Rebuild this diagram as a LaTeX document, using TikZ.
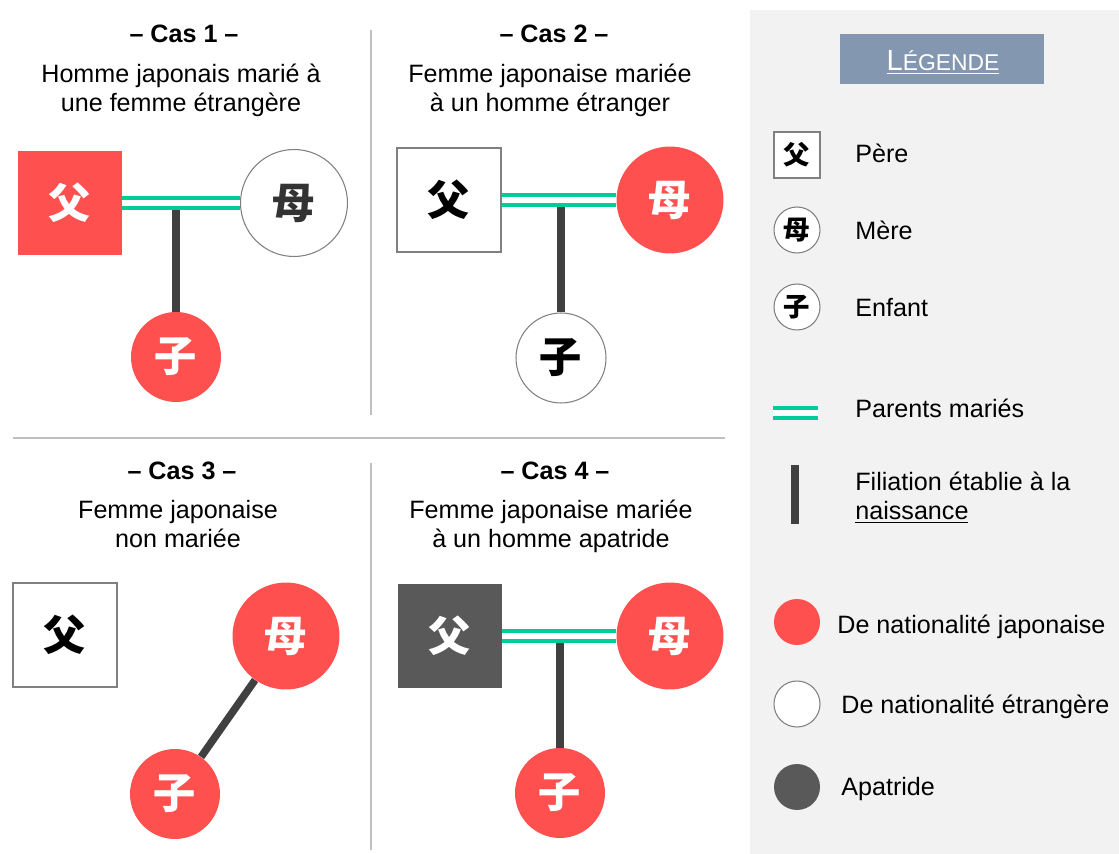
\documentclass[tikz,border=0pt]{standalone}
\usepackage{fontspec}
\setmainfont{Liberation Sans}
\newfontfamily\cjk{Noto Sans CJK JP}
\usepackage{tikz}

\definecolor{jred}{RGB}{255,80,80}
\definecolor{dgray}{RGB}{89,89,89}
\definecolor{lgray}{RGB}{64,64,64}
\definecolor{mgreen}{RGB}{0,204,153}
\definecolor{bord}{RGB}{128,128,128}
\definecolor{panel}{RGB}{242,242,242}
\definecolor{lblue}{RGB}{132,151,176}
\definecolor{divgray}{RGB}{191,191,191}

\begin{document}
\begin{tikzpicture}
[x=0.02cm,y=-0.02cm,
 jp/.style={fill=jred,text=white},
 et/.style={fill=white,draw=bord,line width=0.6pt,text=black},
 ap/.style={fill=dgray,text=white},
 sq/.style={rectangle,inner sep=0pt,minimum size=2.08cm,font=\cjk\bfseries\fontsize{24}{24}\selectfont},
 ci/.style={circle,inner sep=0pt,minimum size=2.14cm,font=\cjk\bfseries\fontsize{24}{24}\selectfont},
 ch/.style={circle,inner sep=0pt,minimum size=1.8cm,font=\cjk\bfseries\fontsize{24}{24}\selectfont},
 lsq/.style={rectangle,inner sep=0pt,minimum size=0.92cm,font=\cjk\bfseries\fontsize{15}{15}\selectfont},
 lci/.style={circle,inner sep=0pt,minimum size=0.92cm,font=\cjk\bfseries\fontsize{15}{15}\selectfont},
 mar/.style={draw=mgreen,line width=0.09cm,double=white,double distance=0.11cm},
 fil/.style={draw=lgray,line width=0.15cm},
 divider/.style={draw=divgray,line width=0.8pt},
 tit/.style={font=\bfseries\fontsize{14.3}{17}\selectfont,anchor=base},
 sub/.style={font=\fontsize{14.3}{17}\selectfont,align=center,anchor=base},
 lt/.style={font=\fontsize{14.3}{17}\selectfont,align=left,anchor=base west,inner sep=0pt}]
\useasboundingbox (0,0) rectangle (1119,854);

% legend panel and separators
\fill[panel] (750,10) rectangle (1119,854);
\draw[divider] (371,30) -- (371,415);
\draw[divider] (371,463) -- (371,850);
\draw[divider] (13,438) -- (725,438);

% titles (base of a two-line node = last line)
\foreach \n/\x/\y in {1/184/43,2/554/43,3/182/480,4/555/480}
  \node[tit] (T\n) at (\x,\y) {– Cas \n{} –};
\node[sub] (S1) at (181,112) {Homme japonais marié à\\une femme étrangère};
\node[sub] (S2) at (550,112) {Femme japonaise mariée\\à un homme étranger};
\node[sub] (S3) at (178,548) {Femme japonaise\\non mariée};
\node[sub] (S4) at (551,548) {Femme japonaise mariée\\à un homme apatride};

% cas 1
\node[sq,jp] (P1) at (70,203) {父};
\node[ci,et,text=black!80] (M1) at (294,203) {母};
\node[ch,jp] (E1) at (176,357) {子};
\draw[fil] (E1) -- (E1 |- P1);
\draw[mar] (P1) -- (M1);

% cas 2
\node[sq,et] (P2) at (449,200) {父};
\node[ci,jp] (M2) at (670,200) {母};
\node[ch,et] (E2) at (561,358) {子};
\draw[fil] (E2) -- (E2 |- P2);
\draw[mar] (P2) -- (M2);

% cas 3
\node[sq,et] (P3) at (65,635) {父};
\node[ci,jp] (M3) at (286,636) {母};
\node[ch,jp] (E3) at (175,794) {子};
\draw[fil] (M3) -- (E3);

% cas 4
\node[sq,ap] (P4) at (450,636) {父};
\node[ci,jp] (M4) at (670,636) {母};
\node[ch,jp] (E4) at (560,793) {子};
\draw[fil] (E4) -- (E4 |- P4);
\draw[mar] (P4) -- (M4);

% legende
\node[fill=lblue,minimum width=4.1cm,minimum height=1cm,inner sep=0pt] (LT) at (942,59) {};
\node[anchor=base,text=white,inner sep=0pt] (LTT) at (943,71)
  {\underline{{\fontsize{16.6}{20}\selectfont L}{\fontsize{13}{16}\selectfont ÉGENDE}}};

\node[lsq,et] (LP) at (797,155) {父};
\node[lci,et] (LM) at (797,230) {母};
\node[lci,et] (LE) at (797,307) {子};
\coordinate (LGa) at (773,413);
\coordinate (LGb) at (818,413);
\draw[mar] (LGa) -- (LGb);
\coordinate (LFa) at (795,465);
\coordinate (LFb) at (795,524);
\draw[fil,line width=0.16cm] (LFa) -- (LFb);
\node[lci,jp] (LJ) at (797,622) {};
\node[lci,et] (LX) at (797,704) {};
\node[lci,ap] (LA) at (797,787) {};

\node[lt] (tP) at (855,163) {Père};
\node[lt] (tM) at (855,240) {Mère};
\node[lt] (tE) at (855,317) {Enfant};
\node[lt] (tMar) at (855,418) {Parents mariés};
\node[lt] (tFil) at (855,520) {Filiation établie à la\\\underline{naissance}};
\node[lt] (tJ) at (837,633) {De nationalité japonaise};
\node[lt] (tX) at (841,713) {De nationalité étrangère};
\node[lt] (tA) at (841,795) {Apatride};

\end{tikzpicture}
\end{document}
